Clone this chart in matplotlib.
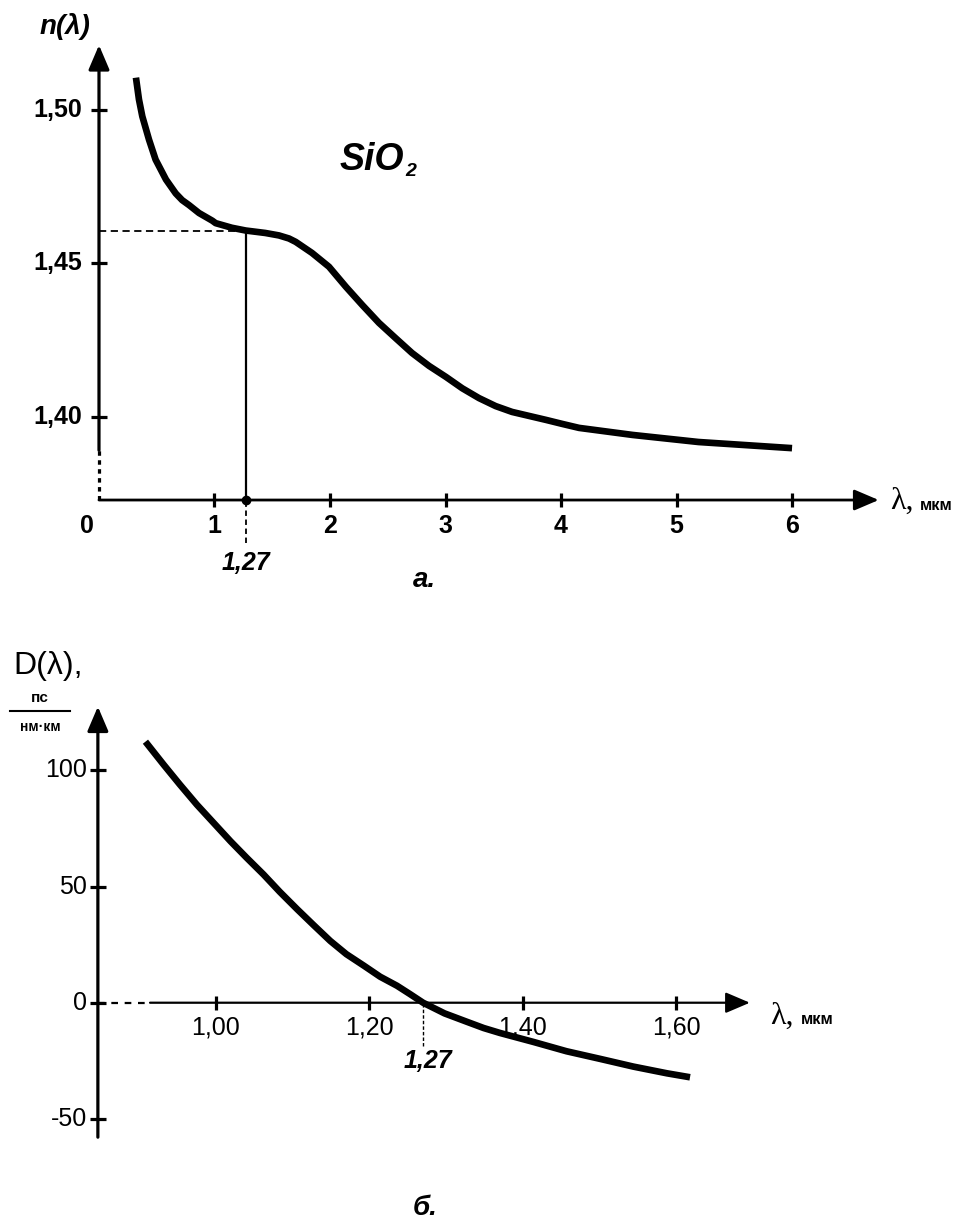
import matplotlib.pyplot as plt
import numpy as np

plt.rcParams['font.family'] = ['Liberation Sans', 'DejaVu Sans']

# (a) refractive index of SiO2
lam_n = [0.32, 0.346, 0.375, 0.433, 0.49, 0.58, 0.664, 0.72, 0.779, 0.866, 0.981,
         1.01, 1.15, 1.27, 1.44, 1.558, 1.645, 1.703, 1.844, 1.991, 2.139, 2.28,
         2.424, 2.569, 2.71, 2.857, 3.004, 3.145, 3.29, 3.434, 3.576, 3.723,
         3.87, 4.01, 4.156, 4.62, 5.19, 6.0]
n_val = [1.5104, 1.5033, 1.4978, 1.4902, 1.4837, 1.4772, 1.4727, 1.4705, 1.4689,
         1.4663, 1.4638, 1.4630, 1.4615, 1.4606, 1.4598, 1.4590, 1.4580, 1.4569,
         1.4533, 1.4488, 1.4422, 1.4363, 1.4305, 1.4255, 1.4207, 1.4165, 1.4129,
         1.4092, 1.4060, 1.4034, 1.4015, 1.4002, 1.3989, 1.3976, 1.3963, 1.3940,
         1.3917, 1.3897]
n_xticks = [1, 2, 3, 4, 5, 6]
n_yticks = [1.40, 1.45, 1.50]
n_ylabels = ['1,40', '1,45', '1,50']

# (б) dispersion
lam_d = [0.908, 0.932, 0.953, 0.975, 0.997, 1.019, 1.040, 1.062, 1.083, 1.106,
         1.127, 1.149, 1.170, 1.193, 1.214, 1.236, 1.253, 1.27, 1.298, 1.327,
         1.349, 1.370, 1.414, 1.457, 1.501, 1.544, 1.588, 1.618]
d_val = [112.4, 102.4, 93.9, 85.3, 77.4, 69.5, 62.4, 55.2, 47.8, 40.2,
         33.5, 26.6, 20.9, 15.9, 11.2, 7.3, 3.7, 0.0, -4.6, -8.2,
         -10.9, -13.0, -16.9, -20.9, -24.2, -27.5, -30.4, -32.1]
d_xticks = [1.00, 1.20, 1.40, 1.60]
d_xlabels = ['1,00', '1,20', '1,40', '1,60']
d_yticks = [-50, 0, 50, 100]

lam0 = 1.27
n0 = 1.4606

W, H = 969, 1222
fig = plt.figure(figsize=(W / 100, H / 100), dpi=100)


def ftext(px, py, s, **kw):
    fig.text(px / W, 1 - py / H, s, **kw)


def arrow(ax, start, tip, lw):
    ax.annotate('', xy=tip, xytext=start,
                arrowprops=dict(arrowstyle='-|>,head_length=0.75,head_width=0.32',
                                lw=lw, color='k', mutation_scale=20,
                                shrinkA=0, shrinkB=0))


# ---------- top chart ----------
ax1 = fig.add_axes([0, 1 - 610 / H, 1, 610 / H])
ax1.set_xlim(-0.857, 7.532)
ax1.set_ylim(1.33697, 1.5357)
ax1.axis('off')
y0 = 1.3728

arrow(ax1, (0, 1.389), (0, 1.521), 2.3)
ax1.plot([0, 0], [y0, 1.389], color='k', lw=2.3, ls=(0, (1.4, 1.4)))
arrow(ax1, (0, y0), (6.75, y0), 2.0)
ax1.plot(n_xticks, [y0] * len(n_xticks), ls='none', marker='|', ms=10, mew=2.3, color='k')
ax1.plot([0] * len(n_yticks), n_yticks, ls='none', marker='_', ms=12, mew=2.3, color='k')
for t in n_xticks:
    ax1.annotate(str(t), (t, y0), xytext=(0, -10), textcoords='offset points',
                 ha='center', va='top', fontsize=18, fontweight='bold')
ax1.annotate('0', (0, y0), xytext=(-9, -10), textcoords='offset points',
             ha='center', va='top', fontsize=18, fontweight='bold')
for t, s in zip(n_yticks, n_ylabels):
    ax1.annotate(s, (0, t), xytext=(-12, 0), textcoords='offset points',
                 ha='right', va='center', fontsize=18, fontweight='bold')

ax1.plot([0, lam0], [n0, n0], color='k', lw=1.3, ls=(0, (4, 2.5)))
ax1.plot([lam0, lam0], [y0, n0], color='k', lw=1.6)
ax1.plot([lam0, lam0], [1.3588, y0], color='k', lw=1.3, ls=(0, (3, 2)))
ax1.plot([lam0], [y0], marker='o', ms=6, color='k')
ax1.plot(lam_n, n_val, color='k', lw=4.8, solid_capstyle='butt', solid_joinstyle='round')

# ---------- bottom chart ----------
ax2 = fig.add_axes([0, 0, 1, 610 / H])
ax2.set_xlim(0.7184, 1.9817)
ax2.set_ylim(-94.42, 168.24)
ax2.axis('off')
x0 = 0.846

arrow(ax2, (x0, -57.9), (x0, 127.5), 2.3)
ax2.plot([x0, 0.914], [0, 0], color='k', lw=1.6, ls=(0, (3, 3)))
arrow(ax2, (0.914, 0), (1.696, 0), 1.6)
ax2.plot(d_xticks, [0] * len(d_xticks), ls='none', marker='|', ms=10, mew=2.3, color='k')
ax2.plot([x0] * len(d_yticks), d_yticks, ls='none', marker='_', ms=12, mew=2.3, color='k')
for t, s in zip(d_xticks, d_xlabels):
    ax2.annotate(s, (t, 0), xytext=(0, -9), textcoords='offset points',
                 ha='center', va='top', fontsize=18)
for t in d_yticks:
    ax2.annotate(str(t), (x0, t), xytext=(-8, 0), textcoords='offset points',
                 ha='right', va='center', fontsize=18)
ax2.plot([lam0, lam0], [-18.5, 0], color='k', lw=1.0, ls=(0, (2.5, 1.5)))
ax2.plot(lam_d, d_val, color='k', lw=4.8, solid_capstyle='butt', solid_joinstyle='round')

# ---------- labels ----------
ftext(65, 27, 'n(λ)', ha='center', va='center', fontsize=20, fontweight='bold', style='italic')
ftext(340, 160, 'SiO', ha='left', va='center', fontsize=27, fontweight='bold', style='italic')
ftext(405, 172, '2', ha='left', va='center', fontsize=14, fontweight='bold', style='italic')
ftext(890, 501, 'λ,', ha='left', va='center', fontsize=23, family='Liberation Serif')
ftext(920, 505, 'мкм', ha='left', va='center', fontsize=12, fontweight='bold')
ftext(770, 1016, 'λ,', ha='left', va='center', fontsize=23, family='Liberation Serif')
ftext(801, 1019, 'мкм', ha='left', va='center', fontsize=12, fontweight='bold')
ftext(246, 563, '1,27', ha='center', va='center', fontsize=18, fontweight='bold', style='italic')
ftext(428, 1061, '1,27', ha='center', va='center', fontsize=18, fontweight='bold', style='italic')
ftext(424, 580, 'а.', ha='center', va='center', fontsize=20, fontweight='bold', style='italic')
ftext(425, 1208, 'б.', ha='center', va='center', fontsize=20, fontweight='bold', style='italic')
ftext(48, 666, 'D(λ),', ha='center', va='center', fontsize=23)
ftext(40, 698, 'пс', ha='center', va='center', fontsize=11, fontweight='bold')
fig.add_artist(plt.Line2D([10 / W, 70 / W], [1 - 711 / H, 1 - 711 / H], color='k', lw=1.5))
ftext(40, 727, 'нм·км', ha='center', va='center', fontsize=10, fontweight='bold')

fig.savefig('out.png', dpi=100)
